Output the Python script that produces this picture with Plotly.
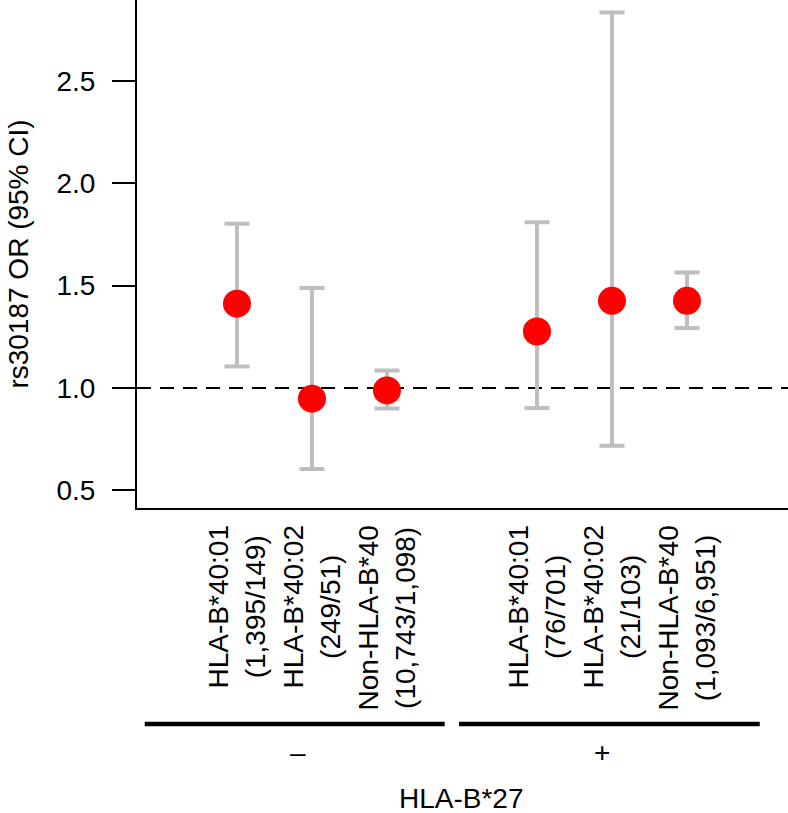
import plotly.graph_objects as go

# ---- data ----
x_pos = [1, 2, 3, 5, 6, 7]
alleles = ["HLA-B*40:01", "HLA-B*40:02", "Non-HLA-B*40",
           "HLA-B*40:01", "HLA-B*40:02", "Non-HLA-B*40"]
counts = ["1,395/149", "249/51", "10,743/1,098",
          "76/701", "21/103", "1,093/6,951"]
or_vals = [1.412, 0.948, 0.988, 1.276, 1.426, 1.426]
ci_low = [1.105, 0.604, 0.900, 0.902, 0.718, 1.293]
ci_high = [1.802, 1.488, 1.086, 1.810, 2.834, 1.564]
group_names = ["\u2013", "+"]
group_line_start = [-0.23, 3.96]
group_line_end = [3.77, 7.97]
group_label_x = [1.81, 5.87]
y_ticks = [0.5, 1.0, 1.5, 2.0, 2.5]

FONT = "Liberation Sans, Arial, Helvetica, sans-serif"
FS = 28

err_plus = [h - v for h, v in zip(ci_high, or_vals)]
err_minus = [v - l for v, l in zip(or_vals, ci_low)]

fig = go.Figure()
fig.add_trace(go.Scatter(
    x=x_pos, y=or_vals, mode="markers",
    marker=dict(color="#FF0000", size=28, line=dict(width=0)),
    error_y=dict(type="data", symmetric=False, array=err_plus,
                 arrayminus=err_minus, color="#BEBEBE",
                 thickness=4, width=12.5),
    showlegend=False, hoverinfo="skip",
))

# reference line at OR = 1
fig.add_shape(type="line", xref="paper", x0=0, x1=1, yref="y", y0=1, y1=1,
              line=dict(color="black", width=2, dash="14px,9px"), layer="below")

# category labels (rotated, centred lines)
for xp, a, c in zip(x_pos, alleles, counts):
    fig.add_annotation(x=xp, xref="x", y=0, yref="paper", yshift=-15,
                       text=f"{a}<br>({c})", textangle=-90, showarrow=False,
                       xanchor="center", yanchor="top", align="center",
                       font=dict(family=FONT, size=FS, color="black"))

# group lines and labels
for s, e, gx, g in zip(group_line_start, group_line_end, group_label_x, group_names):
    fig.add_shape(type="line", xref="x", x0=s, x1=e, yref="paper",
                  y0=-0.425, y1=-0.425, line=dict(color="black", width=4.5))
    fig.add_annotation(x=gx, xref="x", y=-0.482, yref="paper", text=g,
                       showarrow=False, xanchor="center", yanchor="middle",
                       font=dict(family=FONT, size=FS, color="black"))

fig.add_annotation(x=0.498, xref="paper", y=-0.571, yref="paper",
                   text="HLA-B*27", showarrow=False, xanchor="center",
                   yanchor="middle", font=dict(family=FONT, size=FS, color="black"))

fig.update_layout(
    width=788, height=813,
    margin=dict(l=137, r=0, t=0, b=305),
    paper_bgcolor="white", plot_bgcolor="white",
    font=dict(family=FONT, size=FS, color="black"),
    xaxis=dict(range=[-0.333, 8.347], showline=True, linecolor="black",
               linewidth=2, showticklabels=False, ticks="", showgrid=False,
               zeroline=False),
    yaxis=dict(range=[0.414, 2.895], showline=True, linecolor="black",
               linewidth=2, tickvals=y_ticks,
               ticktext=[f"{v:.1f}" for v in y_ticks],
               ticks="outside", ticklen=23, tickwidth=2, tickcolor="black",
               ticklabelstandoff=11, showgrid=False, zeroline=False,
               tickfont=dict(family=FONT, size=FS, color="black"),
               title=dict(text="rs30187 OR (95% CI)", standoff=20,
                          font=dict(family=FONT, size=FS, color="black"))),
)

fig.write_html("out.html", config={"displayModeBar": False},
               post_script="document.body.style.margin='0';document.body.style.padding='0';")
